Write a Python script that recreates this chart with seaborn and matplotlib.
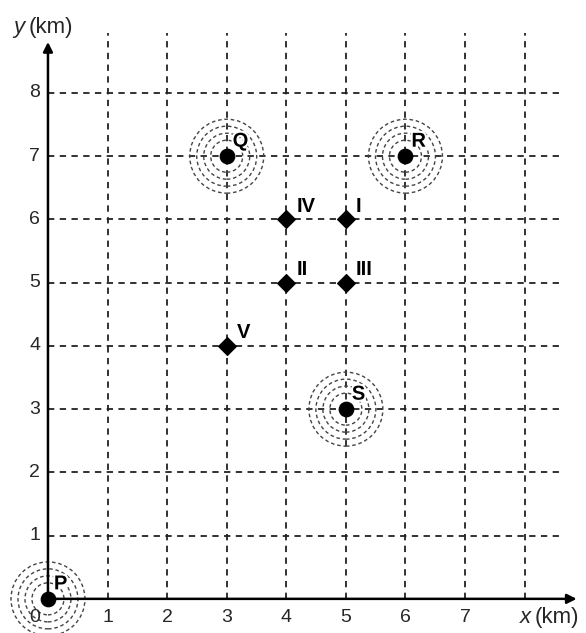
import numpy as np
import pandas as pd
import seaborn as sns
import matplotlib.pyplot as plt
import matplotlib.patheffects as pe
from matplotlib.patches import Ellipse

# towers (big dots with rings)
tower_names = ['P', 'Q', 'R', 'S']
tower_x = [0, 3, 6, 5]
tower_y = [0, 7, 7, 3]

# candidate points (diamonds)
cand_names = ['I', 'II', 'III', 'IV', 'V']
cand_x = [5, 4, 5, 4, 3]
cand_y = [6, 5, 5, 6, 4]

x_ticks = [1, 2, 3, 4, 5, 6, 7]
y_ticks = [1, 2, 3, 4, 5, 6, 7, 8]

sns.set_style('white')
plt.rcParams['font.family'] = ['Liberation Sans', 'DejaVu Sans']

fig = plt.figure(figsize=(5.86, 6.33), dpi=100)
ax = fig.add_axes([0, 0, 1, 1])
ax.set_xlim(-0.805, 9.03)
ax.set_ylim(-0.54, 9.47)

# pixels per unit, used to keep the rings round
px_x = 59.6
px_y = 63.25

# dashed grid
for gx in range(1, 9):
    ax.plot([gx, gx], [0, 8.95], ls=(0, (3.5, 3)), color='#222222', lw=1.3, zorder=1)
for gy in y_ticks:
    ax.plot([0, 8.65], [gy, gy], ls=(0, (3.5, 3)), color='#222222', lw=1.3, zorder=1)

# axes with arrows
ax.annotate('', xy=(8.92, 0), xytext=(0, 0),
            arrowprops=dict(arrowstyle='-|>', color='black', lw=1.8, mutation_scale=14), zorder=3)
ax.annotate('', xy=(0, 8.85), xytext=(0, 0),
            arrowprops=dict(arrowstyle='-|>', color='black', lw=1.8, mutation_scale=14), zorder=3)

# rings around towers
for tx, ty in zip(tower_x, tower_y):
    for r in [16, 23, 30, 37]:
        ax.add_patch(Ellipse((tx, ty), 2 * r / px_x, 2 * r / px_y, fill=False,
                             ls=(0, (2.6, 2)), lw=1.0, color='#444444', zorder=2))

towers = pd.DataFrame({'name': tower_names, 'x': tower_x, 'y': tower_y})
cands = pd.DataFrame({'name': cand_names, 'x': cand_x, 'y': cand_y})

sns.scatterplot(data=towers, x='x', y='y', s=110, color='black', edgecolor='black',
                marker='o', ax=ax, zorder=5, legend=False)
sns.scatterplot(data=cands, x='x', y='y', s=85, color='black', edgecolor='black',
                marker='D', ax=ax, zorder=5, legend=False)
ax.axis('off')

halo = [pe.withStroke(linewidth=3, foreground='white')]
for _, row in towers.iterrows():
    ax.text(row['x'] + 0.1, row['y'] + 0.15, row['name'], fontsize=14.5, color='black',
            fontweight='bold', ha='left', va='baseline', zorder=6, path_effects=halo)
for _, row in cands.iterrows():
    ax.text(row['x'] + 0.17, row['y'] + 0.12, row['name'], fontsize=14.5, color='black',
            fontweight='bold', ha='left', va='baseline', zorder=6)

# tick labels
for t in x_ticks:
    ax.text(t, -0.29, str(t), fontsize=14, ha='center', va='center')
ax.text(-0.22, -0.29, '0', fontsize=14, ha='center', va='center')
for t in y_ticks:
    ax.text(-0.22, t, str(t), fontsize=14, ha='center', va='center')

ax.text(8.1, -0.29, 'x', fontsize=16, style='italic', ha='right', va='center')
ax.text(8.17, -0.29, '(km)', fontsize=16, ha='left', va='center')
ax.text(-0.4, 9.03, 'y', fontsize=16, style='italic', ha='right', va='center')
ax.text(-0.33, 9.03, '(km)', fontsize=16, ha='left', va='center')

plt.savefig('out.png', dpi=100)
